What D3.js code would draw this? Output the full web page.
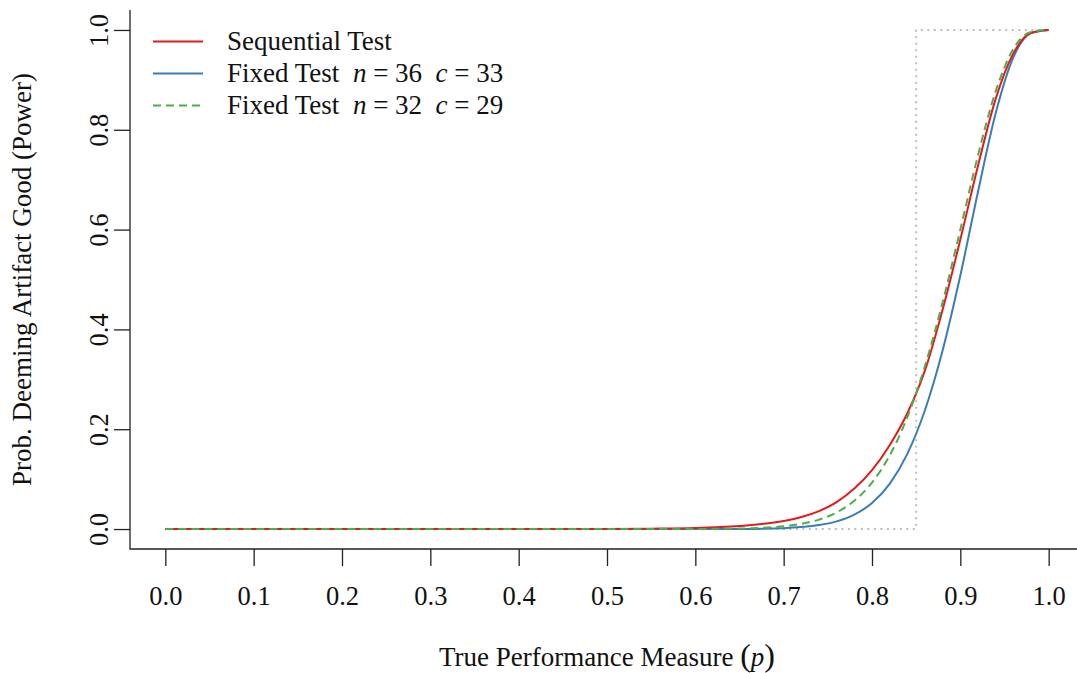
<!DOCTYPE html>
<html>
<head>
<meta charset="utf-8">
<script src="https://cdn.jsdelivr.net/npm/d3@7"></script>
<style>
  html, body { margin: 0; padding: 0; background: #fff; }
  text { font-family: "Liberation Serif", "Times New Roman", serif; fill: #111; }
</style>
</head>
<body>
<svg id="chart" width="1077" height="673"></svg>
<script>
// ---- data ----
const pGrid = [0, 0.1, 0.2, 0.3, 0.4, 0.5, 0.55, 0.6, 0.65, 0.7, 0.72, 0.74, 0.76, 0.78, 0.8, 0.82, 0.84, 0.86, 0.88, 0.9, 0.92, 0.94, 0.96, 0.98, 1.0];
const sequentialPower = [0, 0, 0, 0, 0, 0.0003, 0.0008, 0.002, 0.006, 0.016, 0.024, 0.036, 0.054, 0.081, 0.118, 0.168, 0.232, 0.318, 0.44, 0.58, 0.728, 0.862, 0.953, 0.994, 1];
const fixed36Power = [0, 0, 0, 0, 0, 0, 0, 0.00002, 0.00024, 0.0018, 0.0039, 0.0079, 0.0154, 0.0289, 0.0522, 0.0906, 0.1505, 0.2385, 0.3583, 0.508, 0.676, 0.833, 0.945, 0.994, 1];
const fixed32Power = [0, 0, 0, 0, 0, 0, 0.00001, 0.00013, 0.00096, 0.0055, 0.0104, 0.0189, 0.0333, 0.0566, 0.0931, 0.1473, 0.2242, 0.3268, 0.4545, 0.600, 0.749, 0.877, 0.962, 0.996, 1];
const idealX = [0, 0.85, 0.85, 1];
const idealY = [0, 0, 1, 1];
const xTicks = [0, 0.1, 0.2, 0.3, 0.4, 0.5, 0.6, 0.7, 0.8, 0.9, 1.0];
const yTicks = [0, 0.2, 0.4, 0.6, 0.8, 1.0];
const legendLabels = ["Sequential Test", "Fixed Test", "Fixed Test"];
const legendParams = [null, ["36", "33"], ["32", "29"]];

// ---- layout ----
const svg = d3.select("#chart");
svg.append("rect").attr("width", 1077).attr("height", 673).attr("fill", "#fff");

const x = d3.scaleLinear().domain([-0.04, 1.04]).range([130, 1084]);
const y = d3.scaleLinear().domain([-0.04, 1.04]).range([549, 10]);

const colors = { seq: "#E41A1C", f36: "#377EB8", f32: "#4DAF4A", ideal: "#BDBDBD" };
const tickFont = 26.5, labFont = 27;

// L-shaped box
svg.append("path")
  .attr("d", `M${x.range()[0]},${y.range()[1]} V${y.range()[0]} H${x.range()[1]}`)
  .attr("fill", "none").attr("stroke", "#222").attr("stroke-width", 1.3);

// x axis (ticks only, hanging below the box)
const xAxis = d3.axisBottom(x).tickValues(xTicks).tickSize(17).tickPadding(20)
  .tickFormat(d3.format(".1f"));
const gx = svg.append("g").attr("transform", `translate(0,${y.range()[0]})`).call(xAxis);
gx.select(".domain").remove();
gx.selectAll(".tick line").attr("stroke", "#222").attr("stroke-width", 1.3);
gx.selectAll(".tick text").attr("font-size", tickFont).attr("fill", "#111")
  .style("font-family", "'Liberation Serif', serif");

// y axis
const yAxis = d3.axisLeft(y).tickValues(yTicks).tickSize(16).tickPadding(0)
  .tickFormat(d3.format(".1f"));
const gy = svg.append("g").attr("transform", `translate(${x.range()[0]},0)`).call(yAxis);
gy.select(".domain").remove();
gy.selectAll(".tick line").attr("stroke", "#222").attr("stroke-width", 1.3);
gy.selectAll(".tick text")
  .attr("font-size", tickFont).attr("fill", "#111")
  .attr("x", null).attr("dy", null)
  .attr("text-anchor", "middle")
  .attr("transform", "translate(-22,0) rotate(-90)")
  .attr("y", 0)
  .style("font-family", "'Liberation Serif', serif");

// axis titles
svg.append("text")
  .attr("transform", `translate(31,${(y.range()[0] + y.range()[1]) / 2}) rotate(-90)`)
  .attr("text-anchor", "middle").attr("font-size", labFont)
  .text("Prob. Deeming Artifact Good (Power)");

const xt = svg.append("text")
  .attr("x", (x.range()[0] + x.range()[1]) / 2).attr("y", 666)
  .attr("text-anchor", "middle").attr("font-size", labFont);
xt.append("tspan").text("True Performance Measure ");
xt.append("tspan").attr("font-size", 32).text("(");
xt.append("tspan").attr("font-style", "italic").text("p");
xt.append("tspan").attr("font-size", 32).text(")");

// lines
const lineGen = (xs, ys, curve) => d3.line()
  .x((d, i) => x(xs[i])).y((d, i) => y(ys[i])).curve(curve)(ys);

svg.append("path")
  .attr("d", lineGen(idealX, idealY, d3.curveLinear))
  .attr("fill", "none").attr("stroke", colors.ideal).attr("stroke-width", 2)
  .attr("stroke-dasharray", "2,4.5");

svg.append("path").attr("d", lineGen(pGrid, fixed36Power, d3.curveMonotoneX))
  .attr("fill", "none").attr("stroke", colors.f36).attr("stroke-width", 2);
svg.append("path").attr("d", lineGen(pGrid, sequentialPower, d3.curveMonotoneX))
  .attr("fill", "none").attr("stroke", colors.seq).attr("stroke-width", 2);
svg.append("path").attr("d", lineGen(pGrid, fixed32Power, d3.curveMonotoneX))
  .attr("fill", "none").attr("stroke", colors.f32).attr("stroke-width", 2)
  .attr("stroke-dasharray", "8,5");

// legend
const legColors = [colors.seq, colors.f36, colors.f32];
const legDash = [null, null, "8,5"];
const legY0 = 41.5, legDy = 32;
legendLabels.forEach((lab, i) => {
  const ly = legY0 + i * legDy;
  svg.append("line").attr("x1", 153).attr("x2", 203).attr("y1", ly).attr("y2", ly)
    .attr("stroke", legColors[i]).attr("stroke-width", 2)
    .attr("stroke-dasharray", legDash[i]);
  const t = svg.append("text").attr("x", 227).attr("y", ly + 8.5).attr("font-size", labFont)
    .attr("xml:space", "preserve").style("white-space", "pre");
  t.append("tspan").text(lab);
  if (legendParams[i]) {
    t.append("tspan").text("  ");
    t.append("tspan").attr("font-style", "italic").text("n");
    t.append("tspan").text(" = " + legendParams[i][0] + "  ");
    t.append("tspan").attr("font-style", "italic").text("c");
    t.append("tspan").text(" = " + legendParams[i][1]);
  }
});
</script>
</body>
</html>
